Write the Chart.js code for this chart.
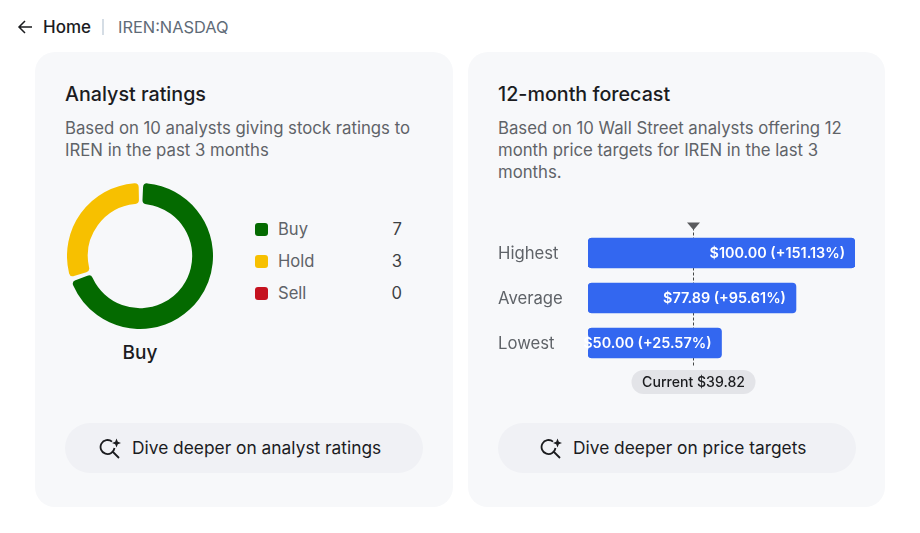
<!DOCTYPE html>
<html>
<head>
<meta charset="utf-8">
<title>IREN:NASDAQ</title>
<script src="https://cdn.jsdelivr.net/npm/chart.js@4"></script>
<style>
  html, body { margin: 0; padding: 0; background: #fff; }
  body { width: 920px; height: 533px; position: relative; overflow: hidden; font-family: Inter, "Noto Sans", sans-serif; color: #1b1c1f; }
  .abs { position: absolute; white-space: nowrap; }
  .card { position: absolute; top: 52px; height: 455px; background: #f7f8fa; border-radius: 20px; }
  .title { top: 82px; font-size: 19.7px; font-weight: 450; line-height: 24px; }
  .desc { top: 117px; font-size: 16.74px; line-height: 22px; color: #5f6368; }
  .btn { position: absolute; top: 423px; height: 50px; background: #f0f1f5; border-radius: 25px; }
  .btnText { top: 437px; font-size: 17.35px; line-height: 22px; font-weight: 400; }
  .legend { font-size: 16.6px; line-height: 22px; color: #5f6368; }
  .count { font-size: 16.6px; line-height: 22px; color: #3c4043; text-align: right; width: 30px; left: 372px; }
  .swatch { position: absolute; left: 255px; width: 13px; height: 13px; border-radius: 3px; }
</style>
</head>
<body>
<svg class="abs" style="left:17px;top:19px" width="16" height="16" viewBox="0 0 16 16" fill="none" stroke="#1b1c1f" stroke-width="1.5"><path d="M15 8H2M8 2L2 8l6 6"/></svg>
<div class="abs" style="left:43px;top:16px;font-size:17px;line-height:22px;font-weight:450">Home</div>
<div class="abs" style="left:102px;top:19px;width:2px;height:16px;background:#d5dde5"></div>
<div class="abs" style="left:118px;top:16px;font-size:16.4px;line-height:22px;color:#5f6b77">IREN:NASDAQ</div>

<div class="card" style="left:35px;width:418px"></div>
<div class="card" style="left:468px;width:417px"></div>

<div class="abs title" style="left:65px">Analyst ratings</div>
<div class="abs desc" style="left:65px">Based on 10 analysts giving stock ratings to<br>IREN in the past 3 months</div>
<div class="abs" style="left:67px;top:183px;width:146px;height:146px"><canvas id="ratingChart"></canvas></div>
<div class="abs" style="left:40px;width:200px;top:341px;text-align:center;font-size:19px;line-height:24px;font-weight:450" id="consensus"></div>
<div id="legend"></div>

<div class="abs title" style="left:498px">12-month forecast</div>
<div class="abs desc" style="left:498px">Based on 10 Wall Street analysts offering 12<br>month price targets for IREN in the last 3<br>months.</div>
<div class="abs" style="left:498px;top:215px;width:357px;height:185px"><canvas id="forecastChart"></canvas></div>

<div class="btn" style="left:65px;width:358px"></div>
<div class="btn" style="left:498px;width:358px"></div>
<svg class="abs" style="left:99px;top:437px" width="24" height="24" viewBox="0 0 24 24" fill="none" stroke="#1b1c1f" stroke-width="1.8"><path d="M13 4.6A7 7 0 1 0 15.5 11M13.5 14.5L20 21"/><path d="M17.5 1.5l1.3 3.2 3.2 1.3-3.2 1.3-1.3 3.2-1.3-3.2-3.2-1.3 3.2-1.3z" fill="#1b1c1f" stroke="none"/></svg>
<div class="abs btnText" style="left:132px">Dive deeper on analyst ratings</div>
<svg class="abs" style="left:540px;top:437px" width="24" height="24" viewBox="0 0 24 24" fill="none" stroke="#1b1c1f" stroke-width="1.8"><path d="M13 4.6A7 7 0 1 0 15.5 11M13.5 14.5L20 21"/><path d="M17.5 1.5l1.3 3.2 3.2 1.3-3.2 1.3-1.3 3.2-1.3-3.2-3.2-1.3 3.2-1.3z" fill="#1b1c1f" stroke="none"/></svg>
<div class="abs btnText" style="left:573px">Dive deeper on price targets</div>

<script>
// analyst ratings
var ratingLabels = ["Buy", "Hold", "Sell"];
var ratingValues = [7, 3, 0];
var ratingColors = ["#046a00", "#f7c000", "#c5121f"];
var consensus = "Buy";

// price targets
var targetLabels = ["Highest", "Average", "Lowest"];
var targetPrices = [100, 77.89, 50];
var targetChanges = ["+151.13%", "+95.61%", "+25.57%"];
var currentPrice = 39.82;

document.getElementById("consensus").textContent = consensus;

var legendHtml = "";
ratingLabels.forEach(function (label, i) {
    var y = 218 + i * 32;
    legendHtml += '<div class="swatch" style="top:' + (y + 5) + 'px;background:' + ratingColors[i] + '"></div>';
    legendHtml += '<div class="abs legend" style="left:278px;top:' + y + 'px">' + label + '</div>';
    legendHtml += '<div class="abs count" style="top:' + y + 'px">' + ratingValues[i] + '</div>';
});
document.getElementById("legend").innerHTML = legendHtml;

//doughnut
var ctxD = document.getElementById("ratingChart").getContext("2d");
new Chart(ctxD, {
    type: "doughnut",
    data: {
        labels: ratingLabels,
        datasets: [{
            data: ratingValues,
            backgroundColor: ratingColors,
            borderWidth: 0,
            borderRadius: 4,
            spacing: 2.5
        }]
    },
    options: {
        responsive: true,
        maintainAspectRatio: false,
        animation: false,
        cutout: "71%",
        layout: { padding: 0 },
        plugins: { legend: { display: false }, tooltip: { enabled: false } }
    }
});

// dashed current price marker, sits behind the bars
var currentLine = {
    id: "currentLine",
    beforeDatasetsDraw: function (chart) {
        var c = chart.ctx;
        var x = Math.round(chart.scales.x.getPixelForValue(currentPrice)) - 0.5;
        c.save();
        c.strokeStyle = "#444746";
        c.lineWidth = 1;
        c.setLineDash([3, 2]);
        c.beginPath();
        c.moveTo(x, chart.chartArea.top - 3);
        c.lineTo(x, chart.chartArea.bottom);
        c.stroke();
        c.restore();
    },
    afterDatasetsDraw: function (chart) {
        var c = chart.ctx;
        var x = Math.round(chart.scales.x.getPixelForValue(currentPrice)) - 0.5;
        var top = chart.chartArea.top;
        c.save();
        // triangle
        c.fillStyle = "#5a5b5e";
        c.beginPath();
        c.moveTo(x - 6.5, top - 8);
        c.lineTo(x + 6.5, top - 8);
        c.lineTo(x, top - 0.5);
        c.closePath();
        c.fill();
        // bar labels, right aligned inside the bar
        var bars = chart.getDatasetMeta(0).data;
        c.font = "600 14.4px Inter";
        c.fillStyle = "#fff";
        c.textAlign = "right";
        c.textBaseline = "middle";
        bars.forEach(function (bar, i) {
            var text = "$" + targetPrices[i].toFixed(2) + " (" + targetChanges[i] + ")";
            c.fillText(text, bar.x - 10, bar.y + 0.5);
        });
        // current price pill
        var pillY = chart.chartArea.bottom + 4.5;
        c.fillStyle = "#e3e4e8";
        c.beginPath();
        c.roundRect(x - 62, pillY, 124, 24, 12);
        c.fill();
        c.font = "450 14.1px Inter";
        c.fillStyle = "#1b1c1f";
        c.textAlign = "center";
        c.fillText("Current $" + currentPrice.toFixed(2), x, pillY + 12.5);
        c.restore();
    }
};

//bar
var ctxB = document.getElementById("forecastChart").getContext("2d");
new Chart(ctxB, {
    type: "bar",
    data: {
        labels: targetLabels,
        datasets: [{
            data: targetPrices,
            backgroundColor: "#3367f0",
            borderRadius: 4,
            borderSkipped: false,
            barThickness: 30
        }]
    },
    options: {
        indexAxis: "y",
        responsive: true,
        maintainAspectRatio: false,
        animation: false,
        layout: { padding: { top: 15.5, bottom: 34.5, left: 0, right: 0 } },
        scales: {
            x: { display: false, min: 0, max: 100 },
            y: {
                afterFit: function (scale) { scale.width = 90; },
                grid: { display: false },
                border: { display: false },
                ticks: {
                    crossAlign: "far",
                    padding: 0,
                    labelOffset: 1,
                    color: "#5f6368",
                    font: { family: "Inter", size: 16.7 }
                }
            }
        },
        plugins: { legend: { display: false }, tooltip: { enabled: false } }
    },
    plugins: [currentLine]
});
</script>
</body>
</html>
